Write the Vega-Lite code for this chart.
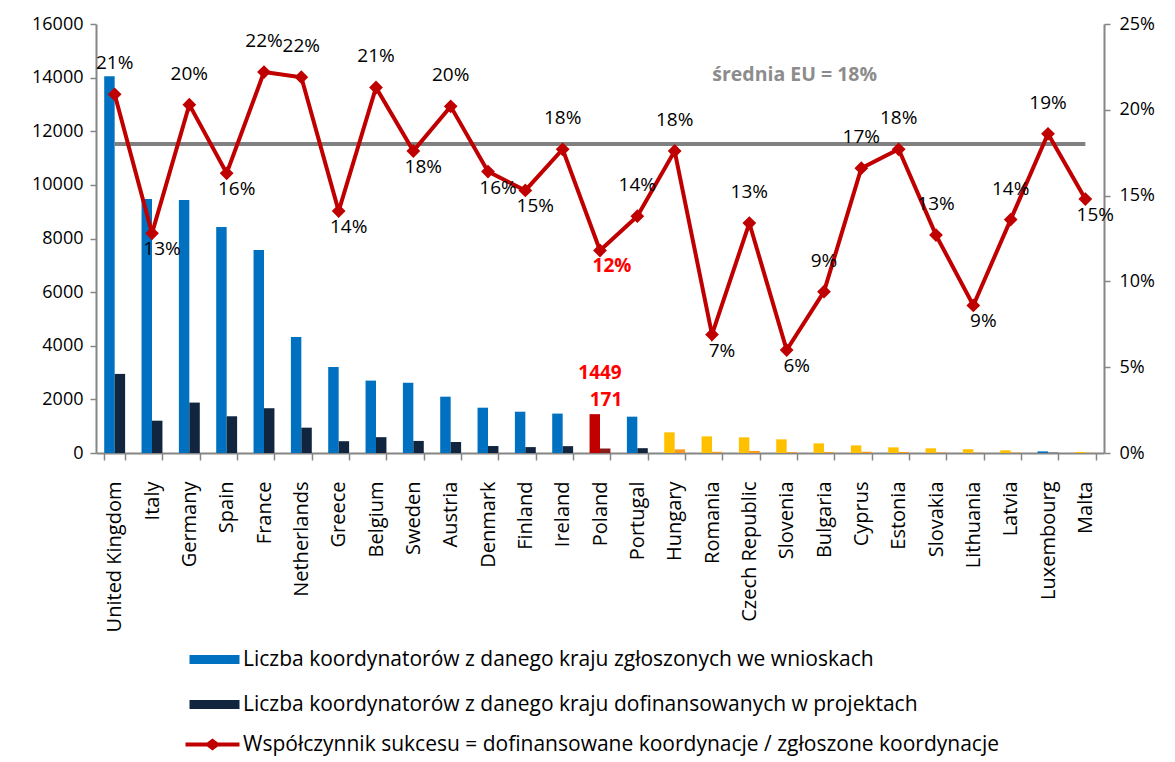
{
  "$schema": "https://vega.github.io/schema/vega-lite/v6.json",
  "width": 1008,
  "height": 429,
  "autosize": {"type": "none"},
  "padding": {"left": 96, "top": 24, "right": 71, "bottom": 309},
  "background": "white",
  "config": {"view": {"stroke": null}, "font": "Open Sans", "text": {"font": "Open Sans"}},
  "data": {
    "values": [
      {"country": "United Kingdom", "applied": 14050, "funded": 2950, "rate": 0.209, "avg": 0.18, "group": "EU15"},
      {"country": "Italy", "applied": 9470, "funded": 1205, "rate": 0.128, "avg": 0.18, "group": "EU15"},
      {"country": "Germany", "applied": 9440, "funded": 1880, "rate": 0.203, "avg": 0.18, "group": "EU15"},
      {"country": "Spain", "applied": 8430, "funded": 1370, "rate": 0.163, "avg": 0.18, "group": "EU15"},
      {"country": "France", "applied": 7570, "funded": 1670, "rate": 0.222, "avg": 0.18, "group": "EU15"},
      {"country": "Netherlands", "applied": 4330, "funded": 945, "rate": 0.219, "avg": 0.18, "group": "EU15"},
      {"country": "Greece", "applied": 3210, "funded": 440, "rate": 0.141, "avg": 0.18, "group": "EU15"},
      {"country": "Belgium", "applied": 2700, "funded": 590, "rate": 0.213, "avg": 0.18, "group": "EU15"},
      {"country": "Sweden", "applied": 2620, "funded": 450, "rate": 0.176, "avg": 0.18, "group": "EU15"},
      {"country": "Austria", "applied": 2100, "funded": 410, "rate": 0.202, "avg": 0.18, "group": "EU15"},
      {"country": "Denmark", "applied": 1690, "funded": 260, "rate": 0.164, "avg": 0.18, "group": "EU15"},
      {"country": "Finland", "applied": 1540, "funded": 220, "rate": 0.153, "avg": 0.18, "group": "EU15"},
      {"country": "Ireland", "applied": 1470, "funded": 255, "rate": 0.177, "avg": 0.18, "group": "EU15"},
      {"country": "Poland", "applied": 1449, "funded": 171, "rate": 0.118, "avg": 0.18, "group": "PL"},
      {"country": "Portugal", "applied": 1355, "funded": 180, "rate": 0.138, "avg": 0.18, "group": "EU15"},
      {"country": "Hungary", "applied": 770, "funded": 135, "rate": 0.176, "avg": 0.18, "group": "NMS"},
      {"country": "Romania", "applied": 620, "funded": 43, "rate": 0.069, "avg": 0.18, "group": "NMS"},
      {"country": "Czech Republic", "applied": 585, "funded": 78, "rate": 0.134, "avg": 0.18, "group": "NMS"},
      {"country": "Slovenia", "applied": 510, "funded": 31, "rate": 0.06, "avg": 0.18, "group": "NMS"},
      {"country": "Bulgaria", "applied": 360, "funded": 34, "rate": 0.094, "avg": 0.18, "group": "NMS"},
      {"country": "Cyprus", "applied": 285, "funded": 47, "rate": 0.166, "avg": 0.18, "group": "NMS"},
      {"country": "Estonia", "applied": 210, "funded": 37, "rate": 0.177, "avg": 0.18, "group": "NMS"},
      {"country": "Slovakia", "applied": 175, "funded": 22, "rate": 0.127, "avg": 0.18, "group": "NMS"},
      {"country": "Lithuania", "applied": 140, "funded": 12, "rate": 0.086, "avg": 0.18, "group": "NMS"},
      {"country": "Latvia", "applied": 100, "funded": 14, "rate": 0.136, "avg": 0.18, "group": "NMS"},
      {"country": "Luxembourg", "applied": 60, "funded": 11, "rate": 0.186, "avg": 0.18, "group": "EU15"},
      {"country": "Malta", "applied": 40, "funded": 6, "rate": 0.148, "avg": 0.18, "group": "NMS"}
    ]
  },
  "layer": [
    {
      "transform": [{"fold": ["applied", "funded"], "as": ["series", "value"]}],
      "layer": [
        {
          "mark": {"type": "bar"},
          "encoding": {
            "x": {
              "field": "country", "type": "nominal", "sort": null,
              "scale": {"paddingInner": 0.44, "paddingOuter": 0.22},
              "axis": {
                "title": null, "labelAngle": -90, "labelFontSize": 20, "labelFont": "Open Sans", "labelColor": "#000000",
                "labelPadding": 21, "tickBand": "extent", "tickSize": 7, "tickColor": "#868686", "tickWidth": 1.5,
                "domainColor": "#868686", "domainWidth": 2, "labelLimit": 300
              }
            },
            "xOffset": {"field": "series", "type": "nominal", "scale": {"paddingInner": 0, "paddingOuter": 0}},
            "y": {
              "field": "value", "type": "quantitative",
              "scale": {"domain": [0, 16000], "nice": false},
              "axis": {
                "title": null, "values": [0, 2000, 4000, 6000, 8000, 10000, 12000, 14000, 16000], "format": "d",
                "labelFontSize": 18, "labelFont": "Open Sans", "labelColor": "#000000", "labelPadding": 7,
                "domainColor": "#868686", "domainWidth": 2, "tickColor": "#868686", "tickSize": 6, "tickWidth": 1.5, "grid": false
              }
            },
            "fill": {
              "field": "series", "type": "nominal",
              "scale": {"domain": ["applied", "funded"], "range": ["#0070C0", "#11253F"]},
              "condition": [
                {"test": "datum.group === 'PL' && datum.series === 'applied'", "value": "#C00000"},
                {"test": "datum.group === 'PL'", "value": "#8B1A1A"},
                {"test": "datum.group === 'NMS' && datum.series === 'applied'", "value": "#FFC000"},
                {"test": "datum.group === 'NMS'", "value": "#F79A1E"}
              ],
              "legend": {
                "orient": "none", "legendX": 106, "legendY": 623, "direction": "vertical", "title": null,
                "labelExpr": "datum.label === 'applied' ? 'Liczba koordynatorów z danego kraju zgłoszonych we wnioskach' : 'Liczba koordynatorów z danego kraju dofinansowanych w projektach'",
                "symbolType": "M-2,-0.36H2V0.36H-2Z", "symbolSize": 625, "symbolStrokeWidth": 0,
                "labelFontSize": 21, "labelFont": "Open Sans", "labelColor": "#000000", "labelLimit": 900,
                "labelOffset": 16, "rowPadding": 22, "padding": 0
              }
            }
          }
        },
        {
          "transform": [{"filter": "datum.group === 'PL' && datum.series === 'applied'"}],
          "mark": {"type": "text", "color": "#FF0000", "fontWeight": "bold", "fontSize": 19, "baseline": "middle", "dy": -41},
          "encoding": {
            "x": {
              "field": "country", "type": "nominal", "sort": null,
              "scale": {"paddingInner": 0.44, "paddingOuter": 0.22},
              "axis": {
                "title": null, "labelAngle": -90, "labelFontSize": 20, "labelFont": "Open Sans", "labelColor": "#000000",
                "labelPadding": 21, "tickBand": "extent", "tickSize": 7, "tickColor": "#868686", "tickWidth": 1.5,
                "domainColor": "#868686", "domainWidth": 2, "labelLimit": 300
              }
            },
            "y": {"field": "value", "type": "quantitative"},
            "text": {"field": "applied", "type": "quantitative", "format": "d"}
          }
        },
        {
          "transform": [{"filter": "datum.group === 'PL' && datum.series === 'applied'"}],
          "mark": {"type": "text", "color": "#FF0000", "fontWeight": "bold", "fontSize": 19, "baseline": "middle", "dy": -14, "dx": 6},
          "encoding": {
            "x": {
              "field": "country", "type": "nominal", "sort": null,
              "scale": {"paddingInner": 0.44, "paddingOuter": 0.22},
              "axis": {
                "title": null, "labelAngle": -90, "labelFontSize": 20, "labelFont": "Open Sans", "labelColor": "#000000",
                "labelPadding": 21, "tickBand": "extent", "tickSize": 7, "tickColor": "#868686", "tickWidth": 1.5,
                "domainColor": "#868686", "domainWidth": 2, "labelLimit": 300
              }
            },
            "y": {"field": "value", "type": "quantitative"},
            "text": {"field": "funded", "type": "quantitative", "format": "d"}
          }
        }
      ]
    },
    {
      "layer": [
        {
          "mark": {"type": "line", "color": "#808080", "strokeWidth": 4},
          "encoding": {
            "x": {
              "field": "country", "type": "nominal", "sort": null,
              "scale": {"paddingInner": 0.44, "paddingOuter": 0.22},
              "axis": {
                "title": null, "labelAngle": -90, "labelFontSize": 20, "labelFont": "Open Sans", "labelColor": "#000000",
                "labelPadding": 21, "tickBand": "extent", "tickSize": 7, "tickColor": "#868686", "tickWidth": 1.5,
                "domainColor": "#868686", "domainWidth": 2, "labelLimit": 300
              }
            },
            "y": {
              "field": "avg", "type": "quantitative",
              "scale": {"domain": [0, 0.25], "nice": false},
              "axis": {
                "title": null, "orient": "right", "values": [0, 0.05, 0.1, 0.15, 0.2, 0.25], "format": ".0%",
                "labelFontSize": 18, "labelFont": "Open Sans", "labelColor": "#000000", "labelPadding": 9,
                "domainColor": "#868686", "domainWidth": 2, "tickColor": "#868686", "tickSize": 6, "tickWidth": 1.5, "grid": false
              }
            }
          }
        },
        {
          "mark": {"type": "line", "strokeWidth": 4, "point": {"shape": "diamond", "size": 120, "filled": true, "fill": "#C00000"}},
          "encoding": {
            "x": {
              "field": "country", "type": "nominal", "sort": null,
              "scale": {"paddingInner": 0.44, "paddingOuter": 0.22},
              "axis": {
                "title": null, "labelAngle": -90, "labelFontSize": 20, "labelFont": "Open Sans", "labelColor": "#000000",
                "labelPadding": 21, "tickBand": "extent", "tickSize": 7, "tickColor": "#868686", "tickWidth": 1.5,
                "domainColor": "#868686", "domainWidth": 2, "labelLimit": 300
              }
            },
            "y": {"field": "rate", "type": "quantitative"},
            "stroke": {
              "datum": "rate",
              "scale": {"domain": ["rate"], "range": ["#C00000"]},
              "legend": {
                "orient": "none", "legendX": 103, "legendY": 707, "title": null,
                "labelExpr": "'Współczynnik sukcesu = dofinansowane koordynacje / zgłoszone koordynacje'",
                "symbolType": "M-2,-0.15H-0.4L0,-0.45L0.4,-0.15H2V0.15H0.4L0,0.45L-0.4,0.15H-2Z", "symbolSize": 729,
                "labelFontSize": 21, "labelFont": "Open Sans", "labelColor": "#000000", "labelLimit": 900,
                "labelOffset": 17, "padding": 0,
                "encode": {"symbols": {"update": {"fill": {"value": "#C00000"}, "strokeWidth": {"value": 0}}}}
              }
            }
          }
        },
        {
          "transform": [{"filter": {"field": "country", "oneOf": ["United Kingdom", "Germany", "France", "Netherlands", "Belgium", "Austria", "Ireland", "Portugal", "Hungary", "Czech Republic", "Bulgaria", "Cyprus", "Estonia", "Slovakia", "Latvia", "Luxembourg"]}}],
          "mark": {"type": "text", "fontSize": 19, "color": "#000000", "baseline": "middle", "dy": -31},
          "encoding": {
            "x": {
              "field": "country", "type": "nominal", "sort": null,
              "scale": {"paddingInner": 0.44, "paddingOuter": 0.22},
              "axis": {
                "title": null, "labelAngle": -90, "labelFontSize": 20, "labelFont": "Open Sans", "labelColor": "#000000",
                "labelPadding": 21, "tickBand": "extent", "tickSize": 7, "tickColor": "#868686", "tickWidth": 1.5,
                "domainColor": "#868686", "domainWidth": 2, "labelLimit": 300
              }
            },
            "y": {"field": "rate", "type": "quantitative"},
            "text": {"field": "rate", "type": "quantitative", "format": ".0%"}
          }
        },
        {
          "transform": [{"filter": {"field": "country", "oneOf": ["Italy", "Spain", "Greece", "Sweden", "Denmark", "Finland", "Romania", "Slovenia", "Lithuania", "Malta"]}}],
          "mark": {"type": "text", "fontSize": 19, "color": "#000000", "baseline": "middle", "dy": 16, "dx": 10},
          "encoding": {
            "x": {
              "field": "country", "type": "nominal", "sort": null,
              "scale": {"paddingInner": 0.44, "paddingOuter": 0.22},
              "axis": {
                "title": null, "labelAngle": -90, "labelFontSize": 20, "labelFont": "Open Sans", "labelColor": "#000000",
                "labelPadding": 21, "tickBand": "extent", "tickSize": 7, "tickColor": "#868686", "tickWidth": 1.5,
                "domainColor": "#868686", "domainWidth": 2, "labelLimit": 300
              }
            },
            "y": {"field": "rate", "type": "quantitative"},
            "text": {"field": "rate", "type": "quantitative", "format": ".0%"}
          }
        },
        {
          "transform": [{"filter": "datum.group === 'PL'"}],
          "mark": {"type": "text", "fontSize": 19, "fontWeight": "bold", "color": "#FF0000", "baseline": "middle", "dy": 15, "dx": 12},
          "encoding": {
            "x": {
              "field": "country", "type": "nominal", "sort": null,
              "scale": {"paddingInner": 0.44, "paddingOuter": 0.22},
              "axis": {
                "title": null, "labelAngle": -90, "labelFontSize": 20, "labelFont": "Open Sans", "labelColor": "#000000",
                "labelPadding": 21, "tickBand": "extent", "tickSize": 7, "tickColor": "#868686", "tickWidth": 1.5,
                "domainColor": "#868686", "domainWidth": 2, "labelLimit": 300
              }
            },
            "y": {"field": "rate", "type": "quantitative"},
            "text": {"field": "rate", "type": "quantitative", "format": ".0%"}
          }
        },
        {
          "data": {"values": [{"label": "średnia EU = 18%", "country": "Slovenia", "pos": 0.22}]},
          "mark": {"type": "text", "fontSize": 19.5, "fontWeight": "bold", "color": "#8C8C8C", "baseline": "middle", "dx": 8},
          "encoding": {
            "x": {
              "field": "country", "type": "nominal", "sort": null,
              "scale": {"paddingInner": 0.44, "paddingOuter": 0.22},
              "axis": {
                "title": null, "labelAngle": -90, "labelFontSize": 20, "labelFont": "Open Sans", "labelColor": "#000000",
                "labelPadding": 21, "tickBand": "extent", "tickSize": 7, "tickColor": "#868686", "tickWidth": 1.5,
                "domainColor": "#868686", "domainWidth": 2, "labelLimit": 300
              }
            },
            "y": {"field": "pos", "type": "quantitative"},
            "text": {"field": "label", "type": "nominal"}
          }
        }
      ]
    }
  ],
  "resolve": {"scale": {"y": "independent"}}
}
